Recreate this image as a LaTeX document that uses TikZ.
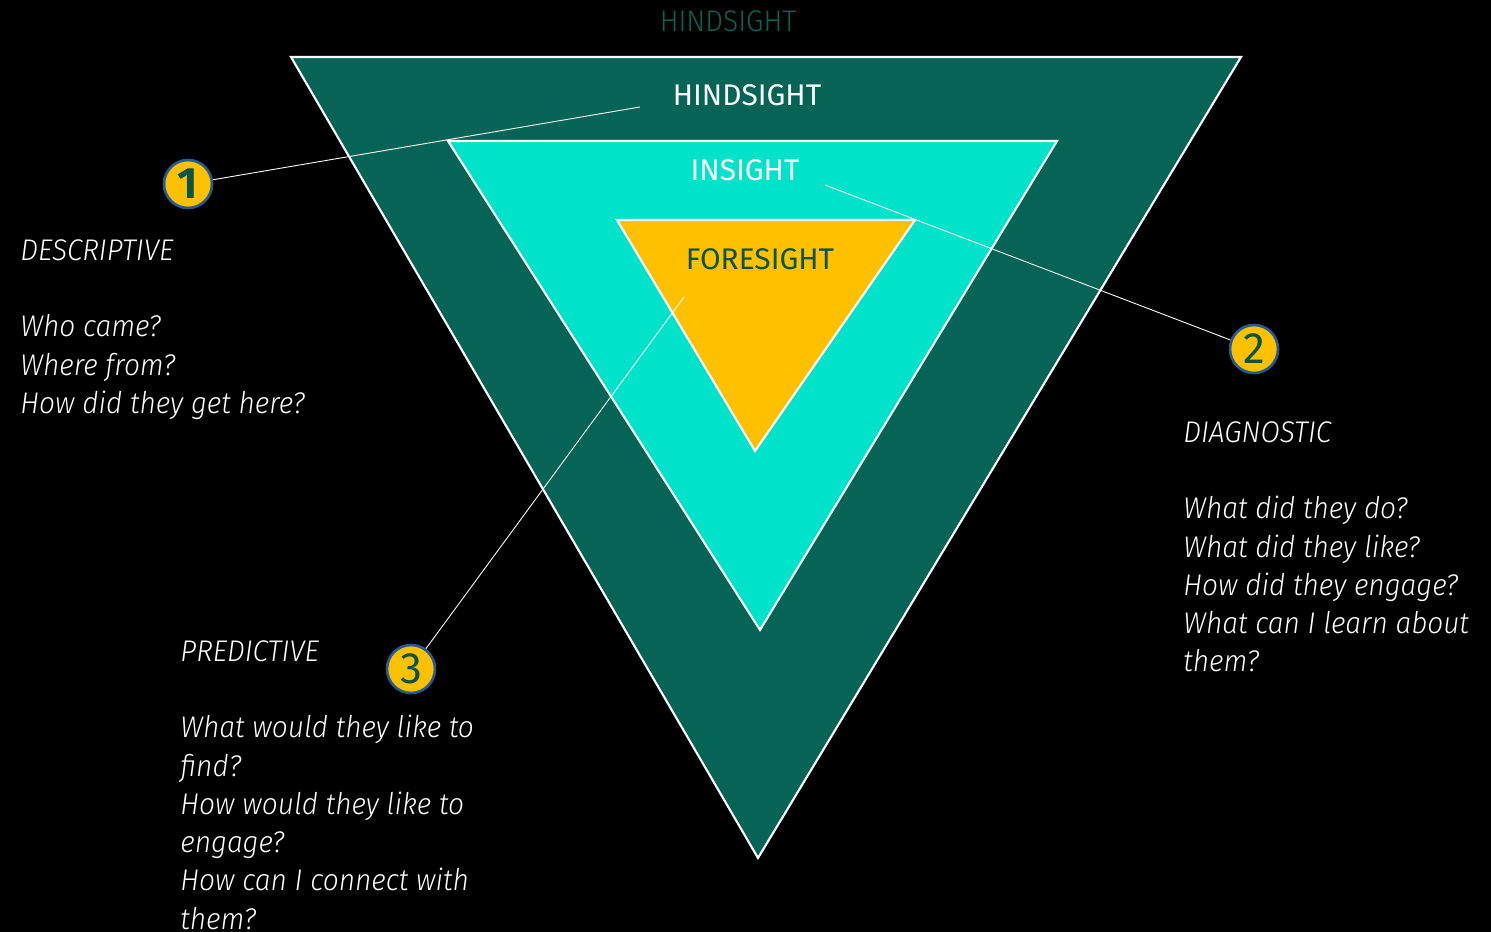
\documentclass[tikz,border=0pt]{standalone}
\usepackage{fontspec}
\setmainfont{Fira Sans}
\newfontfamily\lightfont{Fira Sans Light}[ItalicFont={Fira Sans Light Italic},FakeStretch=0.94]
\definecolor{hindcol}{HTML}{056456}
\definecolor{inscol}{HTML}{00E2CA}
\definecolor{forecol}{HTML}{FFC000}
\definecolor{numcol}{HTML}{0B5444}
\definecolor{ringcol}{HTML}{1F5C99}
\begin{document}
\begin{tikzpicture}[x=0.02cm,y=-0.02cm]
\tikzstyle{level} = [
 draw=white,
 line width=1.2pt,
 line join=miter
]
\tikzstyle{num} = [
 circle,
 draw=ringcol,
 line width=1.5pt,
 fill=forecol,
 text=numcol,
 minimum size=0.96cm,
 inner sep=0pt,
 font=\fontsize{25}{25}\selectfont
]
\tikzstyle{title} = [
 font=\fontsize{17}{20}\selectfont
]
\tikzstyle{notes} = [
 anchor=north west,
 align=left,
 inner sep=0pt,
 text=white,
 font=\lightfont\itshape\fontsize{17}{21.8}\selectfont
]
\tikzstyle{lead} = [
 draw=white,
 line width=0.5pt
]
\fill[black] (0,0) rectangle (1491,932);
\useasboundingbox (0,0) rectangle (1491,932);

% the three levels
\path[level,fill=hindcol] (291,57) -- (1241,57) -- (758,858) -- cycle;
\path[level,fill=inscol] (448,141) -- (1057,141) -- (760,630) -- cycle;
\path[level,fill=forecol] (617,220) -- (915,220) -- (755,451) -- cycle;

\node[title,text=hindcol] at (728,21) (top) {\lightfont HINDSIGHT};
\node[title,text=white] at (747,95) (hind) {HINDSIGHT};
\node[title,text=white] at (745,170) (ins) {INSIGHT};
\node[title,text=numcol] at (760,259) (fore) {FORESIGHT};

% numbered markers
\node[num] at (188,184) (one) {\bfseries 1};
\node[num] at (1254,349) (two) {2};
\node[num] at (411,669) (three) {3};

\coordinate (e1) at (640,107);
\coordinate (e2) at (825,185);
\coordinate (e3) at (684,297);
\path[lead] (one) -- (e1);
\path[lead] (e2) -- (two);
\path[lead] (e3) -- (three);

% questions
\node[notes] at (20,239) (desc) {DESCRIPTIVE\\ \mbox{}\\Who came?\\Where from?\\How did they get here?};
\node[notes] at (1183,421) (diag) {DIAGNOSTIC\\ \mbox{}\\What did they do?\\What did they like?\\How did they engage?\\What can I learn about\\them?};
\node[notes] at (180,640) (pred) {PREDICTIVE\\ \mbox{}\\What would they like to\\find?\\How would they like to\\engage?\\How can I connect with\\them?};
\end{tikzpicture}
\end{document}
